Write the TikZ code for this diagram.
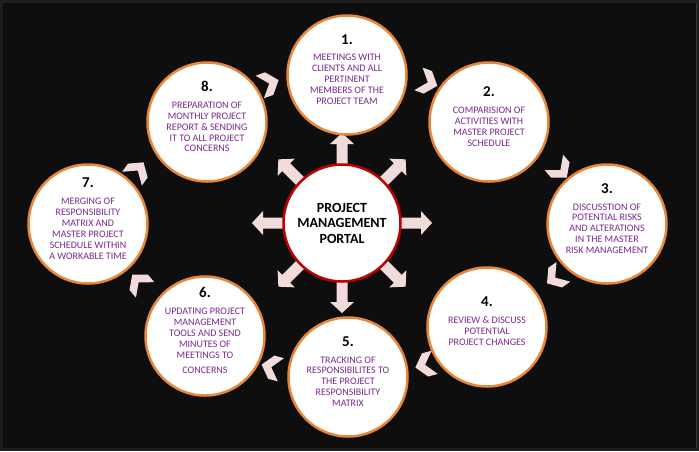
\documentclass[tikz,border=0pt]{standalone}
\usepackage{fontspec}
\setmainfont{Carlito}
\usetikzlibrary{calc}

\definecolor{pinkarrow}{HTML}{F2DCDB}
\definecolor{ringorange}{HTML}{E8873A}
\definecolor{hubred}{HTML}{C00000}
\definecolor{steptext}{HTML}{7A2A8C}
\definecolor{bgdark}{HTML}{0E0E0E}
\definecolor{bgframe}{HTML}{1E1E1E}

\newcommand{\stepbody}[2]{\makebox[0pt]{\smash{\parbox{104pt}{\centering
  {\fontsize{15}{17}\selectfont\bfseries #1\endgraf}\vspace{6pt}
  {\fontsize{10}{10.9}\selectfont\leavevmode\color{steptext}#2\endgraf}\vspace{6pt}}}}}

\tikzset{
  stepcircle/.style={circle,draw=ringorange,line width=2.5pt,fill=white,minimum size=119pt,inner sep=0pt},
  hubcircle/.style={circle,draw=hubred,line width=2.5pt,fill=white,minimum size=117pt,inner sep=0pt,
    align=center,font=\fontsize{14}{15.5}\selectfont\bfseries}
}

\begin{document}
\begin{tikzpicture}[x=1pt,y=-1pt]
                \fill[bgframe] (0,0) rectangle (699,451);
                \fill[bgdark] (3,3) rectangle (696,448);
                \draw[gray!45!black,line width=1pt] (696.5,3)--(696.5,448);
                \coordinate (hubc) at (342,223);
                % arrows out of the portal
                \foreach \ang in {0,45,...,315}
                    \fill[pinkarrow,shift={(hubc)},rotate=\ang] (40,-5.5)--(79,-5.5)--(79,-12)--(90,0)--(79,12)--(79,5.5)--(40,5.5)--cycle;
                \node[hubcircle] (hub) at (hubc) {PROJECT\\MANAGEMENT\\PORTAL};
                \node[stepcircle] (s1) at (347,75) {\stepbody{1.}{MEETINGS WITH\\CLIENTS AND ALL\\PERTINENT\\MEMBERS OF THE\\PROJECT TEAM}};
                \node[stepcircle] (s2) at (489,122) {\stepbody{2.}{COMPARISION OF\\ACTIVITIES WITH\\MASTER PROJECT\\SCHEDULE}};
                \node[stepcircle] (s3) at (607,224) {\stepbody{3.}{DISCUSSTION OF\\POTENTIAL RISKS\\AND ALTERATIONS\\IN THE MASTER\\RISK MANAGEMENT}};
                \node[stepcircle] (s4) at (487,327) {\stepbody{4.}{REVIEW \& DISCUSS\\POTENTIAL\\PROJECT CHANGES}};
                \node[stepcircle] (s5) at (348,377) {\stepbody{5.}{TRACKING OF\\RESPONSIBILITES TO\\THE PROJECT\\RESPONSIBILITY\\MATRIX}};
                \node[stepcircle] (s6) at (205,336) {\stepbody{6.}{UPDATING PROJECT\\MANAGEMENT\\TOOLS AND SEND\\MINUTES OF\\MEETINGS TO\\[4pt]CONCERNS}};
                \node[stepcircle] (s7) at (88,224) {\stepbody{7.}{MERGING OF\\RESPONSIBILITY\\MATRIX AND\\MASTER PROJECT\\SCHEDULE WITHIN\\A WORKABLE TIME}};
                \node[stepcircle] (s8) at (207,122) {\stepbody{8.}{PREPARATION OF\\MONTHLY PROJECT\\REPORT \& SENDING\\IT TO ALL PROJECT\\CONCERNS}};
                % chevrons between the steps
                \foreach \a/\b/\f/\ang in {1/2/1.13/-20,2/3/1.06/-50,3/4/1.04/215,4/5/1.1/195,5/6/1.08/165,6/7/1.04/130,7/8/1.05/55,8/1/1.12/20}
                    \fill[pinkarrow,shift={($(hubc)!\f!($(s\a)!.5!(s\b)$)$)},rotate=\ang] (-10,12)--(0,12)--(10,0)--(0,-12)--(-10,-12)--(0,0)--cycle;
            \end{tikzpicture}
\end{document}
